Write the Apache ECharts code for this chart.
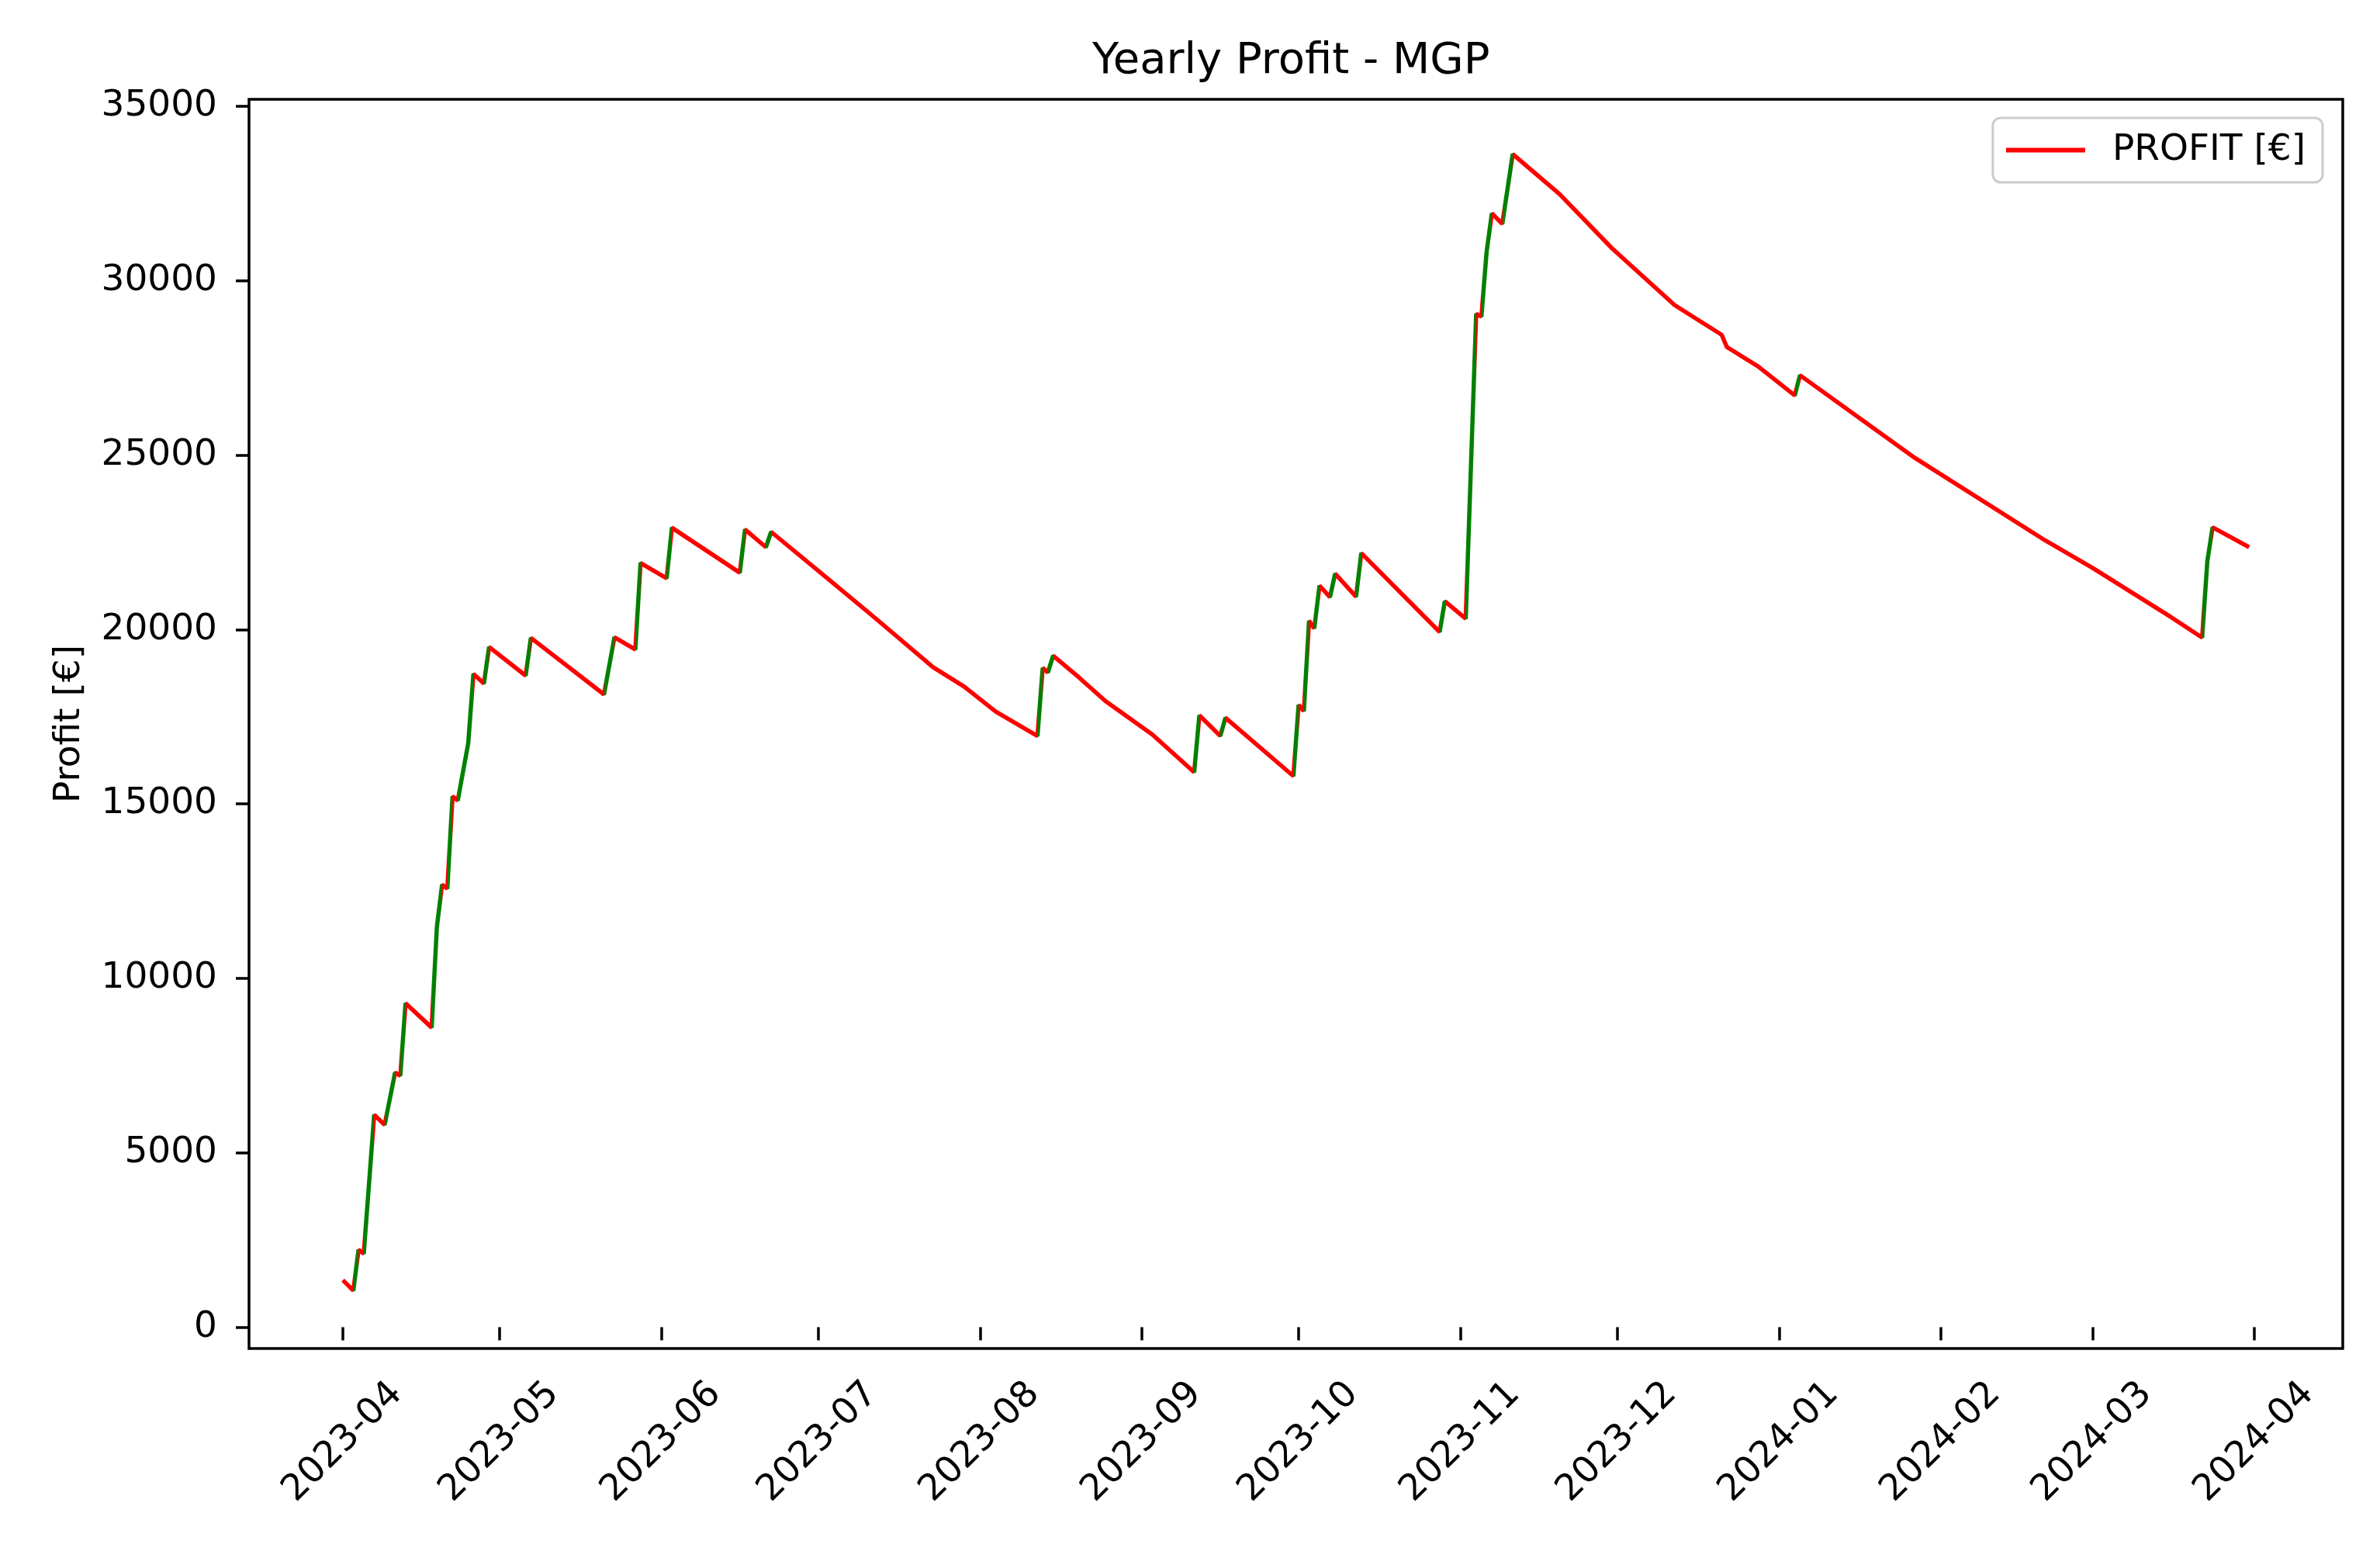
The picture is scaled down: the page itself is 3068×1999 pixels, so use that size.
<!DOCTYPE html>
<html><head><meta charset="utf-8">
<script src="https://cdn.jsdelivr.net/npm/echarts@6/dist/echarts.min.js"></script>
<style>html,body{margin:0;padding:0;background:#fff}#c{width:3068px;height:1999px}</style>
</head><body><div id="c"></div>
<script>
// ---- data ----
const dates = [
 '2023-04-01','2023-04-03','2023-04-04','2023-04-05','2023-04-07','2023-04-09','2023-04-11','2023-04-12','2023-04-13',
 '2023-04-18','2023-04-19','2023-04-20','2023-04-21','2023-04-22','2023-04-23','2023-04-25','2023-04-26','2023-04-28',
 '2023-04-29','2023-05-06','2023-05-07','2023-05-21','2023-05-23','2023-05-27','2023-05-28','2023-06-02','2023-06-03',
 '2023-06-16','2023-06-17','2023-06-21','2023-06-22','2023-07-03','2023-07-12','2023-07-23','2023-07-29','2023-08-04',
 '2023-08-12','2023-08-13','2023-08-14','2023-08-15','2023-08-20','2023-08-25','2023-09-03','2023-09-11','2023-09-12',
 '2023-09-16','2023-09-17','2023-09-30','2023-10-01','2023-10-02','2023-10-03','2023-10-04','2023-10-05','2023-10-07',
 '2023-10-08','2023-10-12','2023-10-13','2023-10-28','2023-10-29','2023-11-02','2023-11-04','2023-11-05','2023-11-06',
 '2023-11-07','2023-11-09','2023-11-11','2023-11-20','2023-11-30','2023-12-12','2023-12-21','2023-12-22','2023-12-28',
 '2024-01-04','2024-01-05','2024-01-27','2024-02-21','2024-03-01','2024-03-16','2024-03-22','2024-03-23','2024-03-24',
 '2024-03-31'
];
const profit = [
 1350,1050,2220,2110,6090,5800,7300,7210,9290,
 8590,11470,12690,12570,15220,15100,16740,18730,18450,
 19500,18680,19760,18140,19780,19430,21910,21470,22920,
 21630,22870,22360,22800,21440,20320,18920,18360,17650,
 16950,18900,18770,19250,18620,17950,16990,15910,17540,
 16950,17470,15800,17840,17660,20250,20030,21260,20930,
 21600,20940,22190,19930,20810,20310,29050,28970,30830,
 31930,31630,33630,32480,30930,29300,28450,28100,27540,
 26710,27290,24920,22550,21770,20360,19770,21960,22930,
 22360
];
const monthTicks = ['2023-04-01','2023-05-01','2023-06-01','2023-07-01','2023-08-01','2023-09-01','2023-10-01',
 '2023-11-01','2023-12-01','2024-01-01','2024-02-01','2024-03-01','2024-04-01'];
const tickLabels = ['2023-04','2023-05','2023-06','2023-07','2023-08','2023-09','2023-10',
 '2023-11','2023-12','2024-01','2024-02','2024-03','2024-04'];
const yTicks = [0,5000,10000,15000,20000,25000,30000,35000];
const seriesName = 'PROFIT [€]';
const UP_COLOR = '#008000', DOWN_COLOR = '#ff0000';

// ---- build ----
const toTs = s => { const p = s.split('-').map(Number); return Date.UTC(p[0], p[1]-1, p[2]); };
const ts = dates.map(toTs);
const seriesData = ts.map((t,i) => [t, profit[i]]);
const tickTs = monthTicks.map(toTs);
const DAY = 86400000;
const x0 = toTs('2023-04-01');

// color pieces: green for rising segments, red for falling ones
const pieces = [];
for (let i = 0; i < ts.length - 1; i++) {
  const color = profit[i+1] > profit[i] ? UP_COLOR : DOWN_COLOR;
  const last = pieces[pieces.length-1];
  if (last && last.color === color) { last.lt = ts[i+1]; }
  else pieces.push({gte: ts[i], lt: ts[i+1], color});
}
pieces[pieces.length-1].lte = pieces[pieces.length-1].lt; delete pieces[pieces.length-1].lt;

const FONT = 'DejaVu Sans';
const chart = echarts.init(document.getElementById('c'), null, {renderer: 'canvas'});
chart.setOption({
  animation: false,
  backgroundColor: '#ffffff',
  title: {
    text: 'Yearly Profit - MGP',
    left: 1403, top: 46,
    textStyle: {fontFamily: FONT, fontSize: 56, fontWeight: 'normal', color: '#000'}
  },
  legend: {
    right: 74, top: 152,
    padding: [18, 22, 18, 17],
    backgroundColor: '#ffffff',
    borderColor: '#cccccc', borderWidth: 3, borderRadius: 10,
    itemWidth: 102, itemHeight: 20,
    icon: 'path://M0,0 L100,0 L100,6 L0,6 Z',
    itemStyle: {color: DOWN_COLOR},
    lineStyle: {color: DOWN_COLOR, width: 6},
    textStyle: {fontFamily: FONT, fontSize: 47, color: '#000', padding: [0,0,0,30]},
    data: [seriesName]
  },
  grid: {
    left: 321, right: 48, top: 128, bottom: 261,
    show: true, borderColor: '#000', borderWidth: 3.5, backgroundColor: 'transparent'
  },
  visualMap: {
    show: false, type: 'piecewise', dimension: 0, seriesIndex: 0,
    pieces: pieces, outOfRange: {color: DOWN_COLOR}
  },
  xAxis: {
    type: 'value',
    min: x0 - 17.97 * DAY, max: x0 + 382.93 * DAY,
    axisLine: {show: false},
    splitLine: {show: false},
    axisTick: {show: true, length: 17, lineStyle: {color: '#000', width: 3.5}, customValues: tickTs},
    axisLabel: {
      customValues: tickTs,
      rotate: 45, align: 'center', verticalAlign: 'middle', margin: 121,
      fontFamily: FONT, fontSize: 47, color: '#000',
      formatter: v => { const k = tickTs.indexOf(v); return k >= 0 ? tickLabels[k] : ''; }
    }
  },
  yAxis: {
    type: 'value',
    min: -610, max: 35200,
    name: 'Profit [€]', nameLocation: 'middle', nameRotate: 90, nameGap: 208,
    nameTextStyle: {fontFamily: FONT, fontSize: 47, color: '#000'},
    axisLine: {show: false},
    splitLine: {show: false},
    axisTick: {show: true, length: 17, lineStyle: {color: '#000', width: 3.5}, customValues: yTicks},
    axisLabel: {customValues: yTicks, margin: 41, fontFamily: FONT, fontSize: 47, color: '#000',
      formatter: v => String(v)}
  },
  series: [{
    name: seriesName,
    type: 'line',
    data: seriesData,
    symbol: 'none',
    showSymbol: false,
    lineStyle: {width: 5.5}
  }]
});
</script>
</body></html>
